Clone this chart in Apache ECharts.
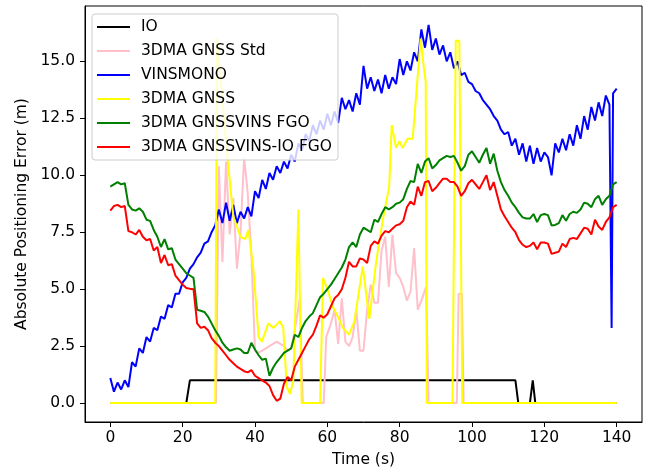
<!DOCTYPE html>
<html>
<head>
<meta charset="utf-8">
<script src="https://cdn.jsdelivr.net/npm/echarts@6/dist/echarts.min.js"></script>
<style>
  html, body { margin: 0; padding: 0; background: #fff; }
  #chart { width: 648px; height: 474px; }
</style>
</head>
<body>
<div id="chart"></div>
<script>
// legend names, in drawing order
var seriesNames = ['IO', '3DMA GNSS Std', 'VINSMONO', '3DMA GNSS', '3DMA GNSSVINS FGO', '3DMA GNSSVINS-IO FGO'];
var xTicks = [0, 20, 40, 60, 80, 100, 120, 140];
var yTicks = [0, 2.5, 5, 7.5, 10, 12.5, 15];

// IO flag, [time, value]
var ioPoints = [[0, 0], [21, 0], [22, 1], [112, 1], [112.8, 0], [116, 0], [116.8, 1], [117.5, 0], [140, 0]];

// 3DMA GNSS Std, [time, value]
var stdPoints = [
  [0, 0], [29.2, 0], [30, 10.4], [31, 6.2], [32, 10.6], [33, 7.4], [34, 9.0], [35, 5.9], [36, 7.5],
  [37, 10.8], [38, 9.2], [39, 6.5], [40, 2.3], [41, 2.2], [42, 2.3], [43, 2.4], [44, 2.5], [45, 2.6],
  [46, 2.7], [47, 2.6], [48, 2.5], [49, 2.3], [50, 2.4], [51, 3.2], [52.4, 4.6], [53.2, 0], [59, 0],
  [59.7, 2.9], [61, 3.5], [62, 4.1], [63, 2.6], [64, 4.6], [65, 2.7], [66, 2.5], [67, 2.9], [68, 4.1],
  [69, 2.3], [70, 2.3], [71, 4.1], [72, 5.2], [73, 4.4], [74, 4.4], [75, 6.7], [76, 7.3], [77, 5.1],
  [78, 7.4], [79, 5.7], [80, 5.5], [81, 5.1], [82, 4.5], [83, 4.9], [84, 6.8], [85, 4.1], [86, 4.5],
  [87.3, 5.1], [88, 0], [95.8, 0], [96.3, 4.8], [97.2, 4.8], [97.7, 0], [140, 0]
];

// VINSMONO, one value per second from 0 to 140
var vinsValues = [
  1.1, 0.5, 0.9, 0.6, 1.0, 0.7, 1.8, 1.6, 2.4, 2.2,
  2.9, 2.7, 3.3, 3.2, 3.8, 3.7, 4.3, 4.2, 4.8, 4.8,
  5.3, 5.5, 5.9, 6.1, 6.4, 6.6, 7.0, 7.1, 7.5, 7.8,
  8.5, 7.9, 8.8, 8.0, 8.7, 7.9, 8.4, 8.1, 8.6, 8.2,
  9.3, 9.0, 9.8, 9.4, 10.1, 9.8, 10.4, 10.1, 10.6, 10.3,
  10.9, 10.6, 11.4, 11.1, 11.8, 11.5, 12.2, 11.8, 12.4, 12.0,
  12.7, 12.2, 12.8, 12.3, 13.4, 12.9, 13.3, 12.8, 13.6, 13.1,
  14.8, 13.8, 14.3, 13.7, 14.2, 13.6, 14.4, 13.8, 14.3, 14.0,
  15.1, 14.4, 15.0, 14.6, 15.4, 15.0, 16.4, 15.6, 16.6, 15.5,
  16.0, 15.3, 15.7, 15.0, 15.4, 14.7, 15.0, 14.4, 14.5, 14.1,
  14.0, 13.7, 13.6, 13.3, 13.1, 12.9, 12.6, 12.4, 12.0, 11.8,
  11.9, 11.3, 11.6, 10.9, 11.4, 10.6, 11.3, 10.5, 11.2, 10.6,
  11.0, 10.8, 10.0, 11.4, 11.0, 11.6, 11.1, 11.8, 11.3, 12.2,
  11.6, 12.6, 12.0, 13.0, 12.4, 13.2, 12.6, 13.5, 13.1, 13.6,
  13.8
];
var vinsDrop = [138.6, 3.3];

// 3DMA GNSS, [time, value]
var gnssPoints = [
  [0, 0], [29, 0], [29.5, 16.0], [32.5, 10.6], [34, 8.2], [36, 7.3], [37.3, 7.2], [38.2, 7.6],
  [39.6, 5.8], [41, 2.9], [41.9, 2.7], [43.7, 3.5], [45.1, 3.3], [46.9, 3.6], [47.8, 3.3], [48.8, 0.7],
  [49.7, 0.4], [50.6, 1.0], [52, 8.5], [52.9, 0], [58, 0], [58.8, 5.5], [60.2, 4.9], [61.6, 4.2],
  [62.9, 3.8], [64.3, 3.3], [66, 3.0], [67.5, 3.6], [69.8, 6.0], [71.6, 3.7], [73.5, 6.2], [75.3, 8.0],
  [77.1, 9.5], [77.8, 12.2], [79, 11.2], [79.9, 11.5], [80.8, 11.2], [82.2, 11.6], [83.6, 11.6],
  [85.8, 16.0], [86.7, 14.7], [87.2, 14.1], [87.5, 0], [94.6, 0], [95.5, 15.9], [96.5, 15.9],
  [97.3, 0], [140, 0]
];

// 3DMA GNSSVINS FGO, one value per second
var fgoValues = [
  9.5, 9.6, 9.7, 9.6, 9.65, 8.7, 8.5, 8.45, 8.55, 8.4,
  8.05, 8.0, 7.6, 7.3, 6.85, 7.2, 6.75, 6.8, 6.3, 6.1,
  5.9, 5.7, 5.6, 5.5, 4.1, 4.05, 4.0, 3.8, 3.5, 3.2,
  2.95, 2.65, 2.45, 2.3, 2.35, 2.4, 2.35, 2.2, 2.2, 2.65,
  2.35, 2.1, 1.9, 1.95, 1.2, 1.55, 1.8, 2.0, 2.2, 2.3,
  2.4, 3.0, 2.9, 3.3, 3.6, 3.8, 3.95, 4.3, 4.65, 4.8,
  5.0, 5.2, 5.45, 5.7, 5.95, 6.3, 6.85, 7.05, 6.85, 7.4,
  7.7, 7.6, 7.5, 8.05, 7.95, 8.3, 8.6, 8.5, 8.6, 8.75,
  8.8, 8.95, 9.4, 9.75, 9.7, 10.5, 10.1, 10.6, 10.75, 10.3,
  10.45, 10.65, 10.75, 10.85, 10.8, 10.85, 10.55, 10.2, 10.4, 10.9,
  11.05, 10.8, 10.55, 10.9, 11.2, 10.5, 10.95, 10.2, 9.7, 9.35,
  9.1, 8.8, 8.6, 8.35, 8.15, 8.1, 8.1, 8.3, 7.95, 8.25,
  8.3, 8.25, 7.8, 7.82, 7.9, 8.25, 8.0, 8.3, 8.4, 8.35,
  8.5, 8.8, 8.75, 8.6, 8.95, 9.1, 8.7, 8.95, 9.1, 9.6,
  9.7
];

// 3DMA GNSSVINS-IO FGO, one value per second
var fgoIoValues = [
  8.45, 8.65, 8.7, 8.6, 8.65, 7.55, 7.5, 7.4, 7.6, 7.3,
  7.15, 7.2, 6.7, 6.85, 6.15, 6.5, 6.05, 6.1, 5.6, 5.4,
  5.2, 5.05, 5.02, 5.0, 3.5, 3.3, 3.35, 3.2, 2.85, 2.65,
  2.5, 2.3, 2.1, 1.9, 1.75, 1.6, 1.5, 1.4, 1.35, 1.45,
  1.2, 1.1, 1.0, 0.9, 0.75, 0.35, 0.1, 0.2, 0.85, 1.15,
  1.0, 1.6, 1.9, 2.2, 2.5, 2.8, 3.0, 3.4, 3.85, 3.75,
  3.9, 4.25, 4.6, 4.75, 5.0, 5.5, 6.2, 6.0, 6.0, 6.35,
  6.3, 6.15, 6.9, 7.1, 7.0, 7.35, 7.55, 7.5, 7.65, 7.8,
  7.85, 8.0, 8.6, 8.85, 8.7, 9.5, 9.1, 9.7, 9.75, 9.3,
  9.45, 9.65, 9.85, 9.85, 9.7, 9.7, 9.5, 9.1, 9.3, 9.65,
  9.8, 9.6, 9.4, 9.7, 10.0, 9.35, 9.7, 9.1, 8.5, 8.2,
  7.95, 7.7, 7.5, 7.15, 6.95, 6.85, 6.9, 7.05, 6.75, 7.05,
  7.05, 7.0, 6.55, 6.6, 6.65, 7.0, 6.85, 7.2, 7.25, 7.2,
  7.45, 7.7, 7.65, 7.4, 8.05, 7.75, 7.6, 7.95, 8.15, 8.6,
  8.7
];

var colors = ['#000000', '#ffc0cb', '#0000ff', '#ffff00', '#008000', '#ff0000'];

function perSecond(values) {
    return values.map(function (v, i) { return [i, v]; });
}

var vinsPoints = perSecond(vinsValues);
vinsPoints.splice(139, 0, vinsDrop);

var seriesData = [ioPoints, stdPoints, vinsPoints, gnssPoints, perSecond(fgoValues), perSecond(fgoIoValues)];

var font = 'DejaVu Sans';
var fs = 15.5;
var chart = echarts.init(document.getElementById('chart'), null, { renderer: 'canvas' });

var option = {
    animation: false,
    backgroundColor: '#ffffff',
    grid: {
        left: 85, right: 6, top: 6, bottom: 52,
        show: true, borderColor: '#000', borderWidth: 1
    },
    legend: {
        left: 92, top: 14,
        orient: 'vertical',
        data: seriesNames,
        icon: 'rect',
        itemWidth: 33, itemHeight: 2, itemGap: 8,
        padding: [5, 6, 5, 5],
        backgroundColor: 'rgba(255,255,255,0.8)',
        borderColor: '#cccccc', borderWidth: 1, borderRadius: 3,
        textStyle: { fontFamily: font, fontSize: fs, lineHeight: 14, color: '#000', padding: [0, 0, 0, 6] }
    },
    xAxis: {
        type: 'value', min: -7, max: 147,
        name: 'Time (s)', nameLocation: 'middle', nameGap: 30,
        nameTextStyle: { fontFamily: font, fontSize: fs, color: '#000' },
        axisLine: { show: true, onZero: false, lineStyle: { color: '#000', width: 1 } },
        axisTick: { show: true, length: 5, customValues: xTicks, lineStyle: { color: '#000' } },
        axisLabel: { customValues: xTicks, margin: 8, fontFamily: font, fontSize: fs, color: '#000' },
        splitLine: { show: false }
    },
    yAxis: {
        type: 'value', min: -0.83, max: 17.43,
        name: 'Absolute Positioning Error (m)', nameLocation: 'middle', nameGap: 54,
        nameTextStyle: { fontFamily: font, fontSize: fs, color: '#000' },
        axisLine: { show: true, onZero: false, lineStyle: { color: '#000', width: 1 } },
        axisTick: { show: true, length: 5, customValues: yTicks, lineStyle: { color: '#000' } },
        axisLabel: {
            customValues: yTicks, margin: 10, fontFamily: font, fontSize: fs, color: '#000',
            formatter: function (v) { return v.toFixed(1); }
        },
        splitLine: { show: false }
    },
    series: seriesNames.map(function (name, k) {
        return {
            name: name,
            type: 'line',
            data: seriesData[k],
            symbol: 'none',
            color: colors[k],
            lineStyle: { color: colors[k], width: 2 }
        };
    })
};

chart.setOption(option);
</script>
</body>
</html>
